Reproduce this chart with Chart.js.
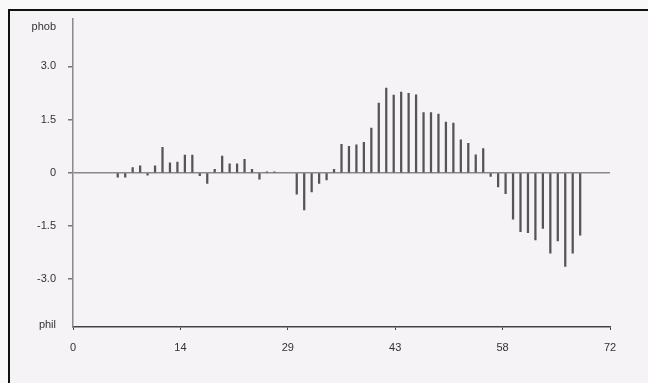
<!DOCTYPE html>
<html>
<head>
<meta charset="utf-8">
<script src="https://cdn.jsdelivr.net/npm/chart.js@4/dist/chart.umd.min.js"></script>
<style>
  html, body { margin: 0; padding: 0; background: #faf9fa; }
  #frame {
    position: absolute; left: 8px; top: 9px; width: 640px; height: 374px;
    border-left: 2px solid #111; border-top: 2px solid #111; background: #f5f3f5;
  }
  #wrap { position: absolute; left: 0; top: 0; width: 648px; height: 383px; }
</style>
</head>
<body>
<div id="frame"></div>
<div id="wrap"><canvas id="myChart" width="648" height="383"></canvas></div>
<script>
'use strict';
// stem positions along the x axis and their heights
let positions = [6, 7, 8, 9, 10, 11, 12, 13, 14, 15, 16, 17, 18, 19, 20, 21, 22, 23, 24, 25, 26, 27,
    30, 31, 32, 33, 34, 35, 36, 37, 38, 39, 40, 41, 42, 43, 44, 45, 46, 47, 48, 49, 50,
    51, 52, 53, 54, 55, 56, 57, 58, 59, 60, 61, 62, 63, 64, 65, 66, 67, 68];
let values = [-0.12, -0.12, 0.15, 0.2, -0.07, 0.2, 0.72, 0.28, 0.3, 0.5, 0.5, -0.08, -0.3, 0.1, 0.47, 0.25, 0.25, 0.38, 0.1, -0.18, 0.03, 0.03,
    -0.6, -1.05, -0.54, -0.3, -0.2, 0.1, 0.8, 0.75, 0.79, 0.86, 1.26, 1.97, 2.39, 2.19, 2.28, 2.24, 2.2, 1.7, 1.7, 1.66, 1.43,
    1.4, 0.93, 0.83, 0.51, 0.68, -0.1, -0.4, -0.59, -1.31, -1.66, -1.69, -1.89, -1.57, -2.27, -1.92, -2.64, -2.27, -1.76];

let xTicks = [0, 14.4, 28.8, 43.2, 57.6, 72];
let yTicks = [-4.3, -3, -1.5, 0, 1.5, 3, 4.1];
let yLabels = ['phil', '-3.0', '-1.5', '0', '1.5', '3.0', 'phob'];

let points = [];
for (let i = 0; i < positions.length; i++) {
    points.push({ x: positions[i], y: values[i] });
}

function chartRender() {
    let ctx = document.getElementById('myChart').getContext('2d');
    let myChart = new Chart(ctx, {
        type: 'bar',
        data: {
            datasets: [{
                data: points,
                backgroundColor: '#555',
                borderWidth: 0,
                barThickness: 1.6
            }]
        },
        options: {
            responsive: false,
            animation: false,
            layout: { padding: { left: 11, top: 13, right: 38, bottom: 0 } },
            plugins: { legend: { display: false }, tooltip: { enabled: false } },
            scales: {
                x: {
                    type: 'linear',
                    offset: false,
                    min: 0,
                    max: 72,
                    afterBuildTicks: function (scale) {
                        scale.ticks = xTicks.map(function (v) { return { value: v }; });
                    },
                    afterFit: function (scale) { scale.height = 56; },
                    ticks: {
                        autoSkip: false,
                        maxRotation: 0,
                        padding: 11,
                        color: '#333',
                        font: { family: 'Liberation Sans', size: 11 },
                        callback: function (v) { return String(Math.round(v)); }
                    },
                    grid: { offset: false, drawOnChartArea: false, tickLength: 3, color: '#444' },
                    border: { color: '#444', width: 1.5 }
                },
                y: {
                    min: -4.35,
                    max: 4.35,
                    afterBuildTicks: function (scale) {
                        scale.ticks = yTicks.map(function (v) { return { value: v }; });
                    },
                    afterFit: function (scale) { scale.width = 62; },
                    ticks: {
                        autoSkip: false,
                        padding: 12,
                        color: '#333',
                        font: { family: 'Liberation Sans', size: 11 },
                        callback: function (v, i) { return yLabels[i]; }
                    },
                    grid: {
                        tickLength: 5,
                        lineWidth: 1.5,
                        color: function (c) { return c.tick && c.tick.value === 0 ? '#8a8a8a' : 'rgba(0,0,0,0)'; },
                        tickColor: function (c) {
                            return c.tick && (c.tick.value === 4.1 || c.tick.value === -4.3) ? 'rgba(0,0,0,0)' : '#777';
                        }
                    },
                    border: { color: '#8a8a8a', width: 1.5 }
                }
            }
        }
    });
}
chartRender();
</script>
</body>
</html>
